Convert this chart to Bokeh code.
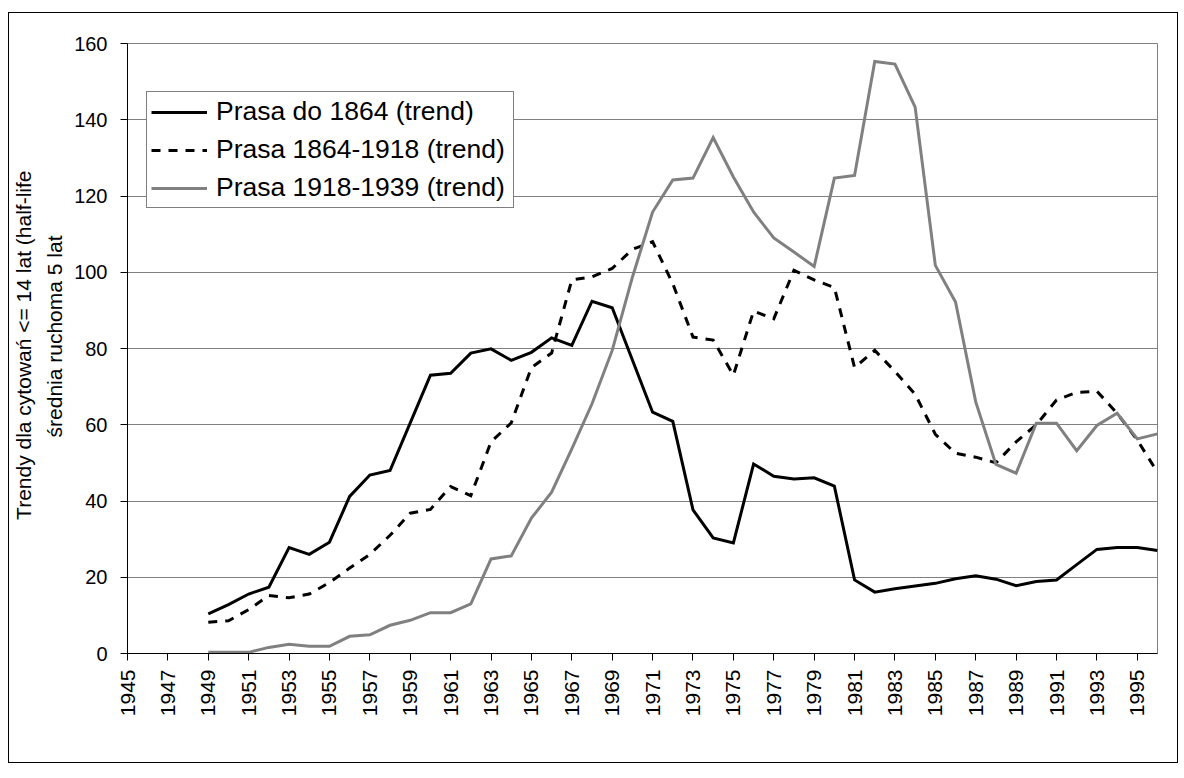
import numpy as np
from bokeh.plotting import figure
from bokeh.models import Range1d, FixedTicker, Legend, LegendItem, Title
from bokeh.layouts import column
from bokeh.embed import file_html
from bokeh.resources import INLINE

years = list(range(1945, 1997))

prasa_do_1864 = [None, None, None, None,
    10.4, 12.8, 15.6, 17.4, 27.8, 26.0, 29.2, 41.2, 46.8, 48.0,
    60.5, 73.0, 73.5, 78.8, 79.9, 76.9, 79.0, 82.8, 80.8, 92.4,
    90.7, 77.0, 63.3, 60.9, 37.7, 30.3, 29.0, 49.7, 46.5, 45.8,
    46.1, 43.9, 19.3, 16.1, 17.0, 17.7, 18.4, 19.6, 20.4, 19.5,
    17.8, 18.9, 19.3, 23.3, 27.3, 27.8, 27.8, 27.0]

prasa_1864_1918 = [None, None, None, None,
    8.2, 8.6, 11.5, 15.2, 14.6, 15.6, 18.6, 22.4, 26.0, 31.0,
    36.8, 37.8, 43.8, 41.4, 55.5, 60.5, 75.0, 78.8, 98.0, 98.8,
    101.0, 106.0, 108.0, 97.0, 83.0, 82.2, 73.0, 89.8, 87.8, 100.5,
    98.0, 96.0, 75.0, 79.5, 74.0, 68.0, 57.5, 52.5, 51.5, 50.0,
    55.5, 60.0, 66.5, 68.5, 68.8, 63.0, 56.0, 47.5]

prasa_1918_1939 = [None, None, None, None,
    0.3, 0.3, 0.3, 1.6, 2.4, 1.9, 1.9, 4.5, 4.9, 7.4,
    8.7, 10.7, 10.7, 13.0, 24.8, 25.6, 35.5, 42.3, 53.7, 65.5,
    79.5, 98.7, 115.8, 124.2, 124.7, 135.3, 125.0, 115.8, 109.0, 105.3,
    101.5, 124.7, 125.4, 155.3, 154.6, 143.3, 101.8, 92.2, 66.0, 49.6,
    47.3, 60.4, 60.4, 53.2, 59.8, 63.0, 56.3, 57.6]

series_names = ["Prasa do 1864 (trend)", "Prasa 1864-1918 (trend)", "Prasa 1918-1939 (trend)"]
x_ticks = list(range(1945, 1996, 2))
y_ticks = list(range(0, 161, 20))
title_line1 = "Trendy dla cytowań <= 14 lat (half-life"
title_line2 = "średnia ruchoma 5 lat"

FONT = "Liberation Sans"

def arr(v):
    return np.array([np.nan if a is None else a for a in v], dtype=float)

p = figure(width=1168, height=749, output_backend="svg", toolbar_location=None,
           x_range=Range1d(1945, 1996), y_range=Range1d(0, 160),
           min_border_left=117, min_border_right=20, min_border_top=30, min_border_bottom=109)
p.background_fill_color = "white"
p.border_fill_color = "white"
p.outline_line_color = "#808080"
p.outline_line_width = 1

p.xgrid.visible = False
p.ygrid.grid_line_color = "#808080"
p.ygrid.grid_line_width = 1
p.ygrid.ticker = FixedTicker(ticks=y_ticks)

xa = p.xaxis[0]
xa.ticker = FixedTicker(ticks=x_ticks)
xa.major_label_overrides = {t: str(t) for t in x_ticks}
xa.major_label_orientation = np.pi / 2
xa.major_label_text_font = FONT
xa.major_label_text_font_size = "21px"
xa.major_label_text_color = "black"
xa.major_label_standoff = 9
xa.axis_line_color = "black"
xa.major_tick_line_color = "black"
xa.major_tick_out = 7
xa.major_tick_in = 0
xa.minor_tick_out = 0
xa.minor_tick_in = 0

ya = p.yaxis[0]
ya.ticker = FixedTicker(ticks=y_ticks)
ya.major_label_text_font = FONT
ya.major_label_text_font_size = "20px"
ya.major_label_text_color = "black"
ya.major_label_standoff = 13
ya.axis_line_color = "black"
ya.major_tick_line_color = "black"
ya.major_tick_out = 7
ya.major_tick_in = 0
ya.minor_tick_out = 0
ya.minor_tick_in = 0

x = np.array(years, dtype=float)
r1 = p.line(x, arr(prasa_do_1864), line_color="black", line_width=3, line_join="miter")
r2 = p.line(x, arr(prasa_1864_1918), line_color="black", line_width=3, line_dash="9 8",
            line_cap="butt", line_join="miter")
r3 = p.line(x, arr(prasa_1918_1939), line_color="#808080", line_width=3, line_join="miter")

legend = Legend(items=[LegendItem(label=series_names[0], renderers=[r1]),
                       LegendItem(label=series_names[1], renderers=[r2]),
                       LegendItem(label=series_names[2], renderers=[r3])],
                location=(19, 445))
legend.label_text_font = FONT
legend.label_text_font_size = "26.5px"
legend.label_text_color = "black"
legend.border_line_color = "black"
legend.border_line_width = 1
legend.background_fill_color = "white"
legend.background_fill_alpha = 1
legend.padding = 4
legend.spacing = 7
legend.margin = 0
legend.glyph_width = 56
legend.glyph_height = 28
legend.label_height = 28
legend.label_width = 293
legend.label_standoff = 9
p.add_layout(legend, "center")

t2 = Title(text=title_line2, align="right", standoff=12, offset=192,
           text_font=FONT, text_font_size="21px", text_font_style="normal", text_color="black")
t1 = Title(text=title_line1, align="right", standoff=0, offset=127,
           text_font=FONT, text_font_size="21px", text_font_style="normal", text_color="black")
p.add_layout(t2, "left")
p.add_layout(t1, "left")

layout = column(p, styles={"border": "1px solid #000",
                           "margin-top": "12px", "margin-left": "8px"})

open("out.html", "w").write(file_html(layout, INLINE))
